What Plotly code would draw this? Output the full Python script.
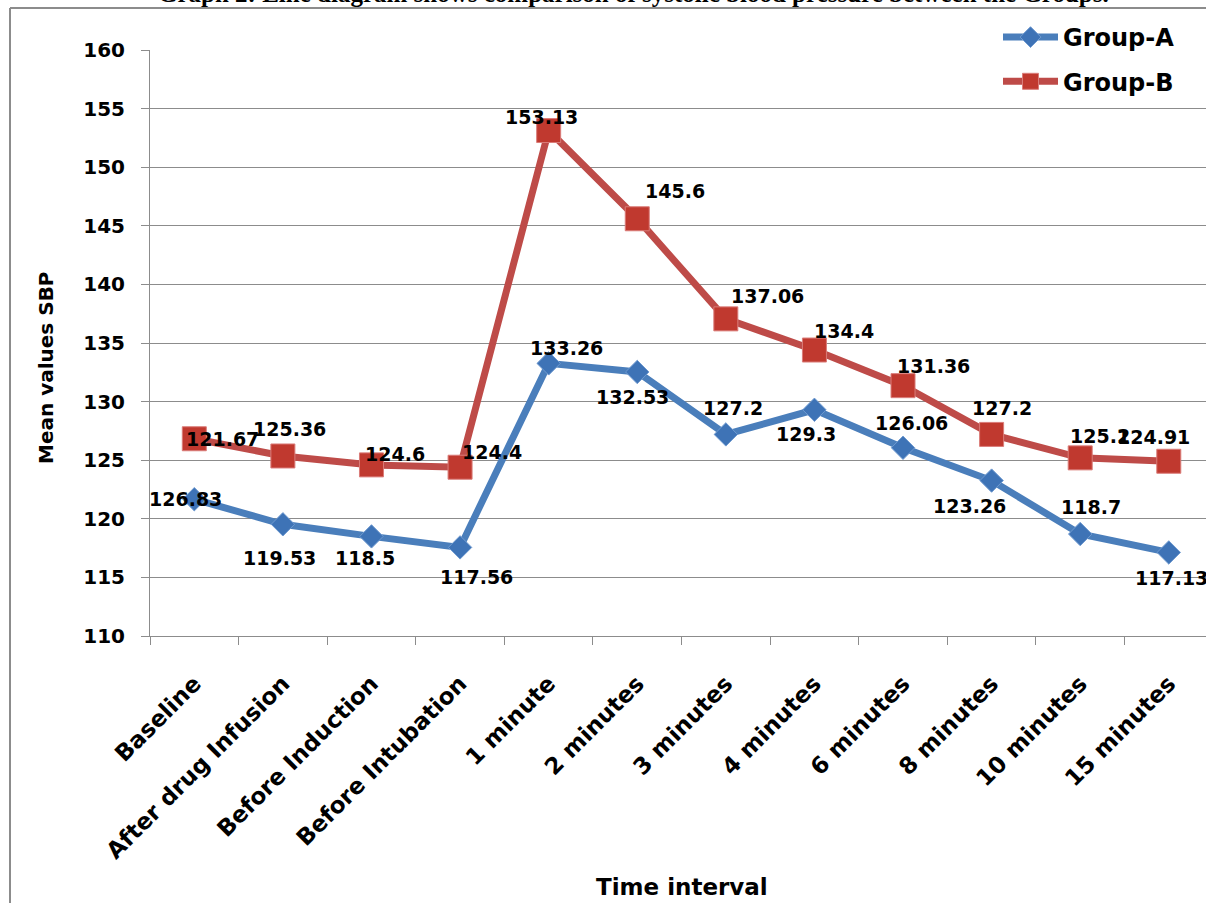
import plotly.graph_objects as go

categories = ["Baseline", "After drug Infusion", "Before Induction", "Before Intubation",
              "1 minute", "2 minutes", "3 minutes", "4 minutes", "6 minutes",
              "8 minutes", "10 minutes", "15 minutes"]
group_a = [121.67, 119.53, 118.5, 117.56, 133.26, 132.53, 127.2, 129.3, 126.06, 123.26, 118.7, 117.13]
group_b = [126.83, 125.36, 124.6, 124.4, 153.13, 145.6, 137.06, 134.4, 131.36, 127.2, 125.2, 124.91]
# data labels as printed in the source (baseline labels are swapped in the original)
labels_a = ["126.83", "119.53", "118.5", "117.56", "133.26", "132.53", "127.2", "129.3", "126.06", "123.26", "118.7", "117.13"]
labels_b = ["121.67", "125.36", "124.6", "124.4", "153.13", "145.6", "137.06", "134.4", "131.36", "127.2", "125.2", "124.91"]

# label offsets (pixels, right/down) relative to each point
off_a = [(-9, 0), (-3, 34), (-6, 22), (16, 30), (18, -15), (-5, 25), (7, -26), (-8, 24), (8, -25), (-22, 25), (11, -27), (3, 26)]
off_b = [(28, 0), (7, -27), (24, -11), (32, -15), (-7, -14), (38, -28), (42, -23), (30, -19), (30, -20), (10, -26), (20, -22), (-15, -24)]

FONT = "DejaVu Sans"
BLUE_LINE = "#4A7EBB"
RED_LINE = "#BE4B48"

fig = go.Figure()
fig.add_trace(go.Scatter(
    x=categories, y=group_a, name="Group-A", mode="lines+markers",
    line=dict(color=BLUE_LINE, width=7),
    marker=dict(symbol="diamond", size=18, color="#3E73B6", line=dict(color="#6F9AD0", width=1)),
    legendgroup="a"))
fig.add_trace(go.Scatter(
    x=categories, y=group_b, name="Group-B", mode="lines+markers",
    line=dict(color=RED_LINE, width=7),
    marker=dict(symbol="square", size=24, color="#C0392F", line=dict(color="#DA7C79", width=1)),
    legendgroup="b"))

annotations = []
for cat, v, t, (dx, dy) in zip(categories, group_a, labels_a, off_a):
    annotations.append(dict(x=cat, y=v, text=t, showarrow=False, xshift=dx, yshift=-dy,
                            font=dict(family=FONT, size=19, color="black", weight="bold")))
for cat, v, t, (dx, dy) in zip(categories, group_b, labels_b, off_b):
    annotations.append(dict(x=cat, y=v, text=t, showarrow=False, xshift=dx, yshift=-dy,
                            font=dict(family=FONT, size=19, color="black", weight="bold")))

# geometry helpers (plot area: x 150..1206, y 50..636)
L, R, T, B = 150, 1206, 50, 636
def px(p):
    return (p - L) / (R - L)
def py(p):
    return 1 - (p - T) / (B - T)

annotations += [
    dict(xref="paper", yref="paper", x=px(633), y=py(-6), text="Graph 2: Line diagram shows comparison of systolic blood pressure between the Groups.",
         showarrow=False, xanchor="center", yanchor="middle",
         font=dict(family="Liberation Serif", size=25, color="black", weight="bold")),
    dict(xref="paper", yref="paper", x=px(46), y=py(368), text="Mean values SBP", textangle=-90,
         showarrow=False, xanchor="center", yanchor="middle",
         font=dict(family=FONT, size=20, color="black", weight="bold")),
    dict(xref="paper", yref="paper", x=px(682), y=py(887), text="Time interval",
         showarrow=False, xanchor="center", yanchor="middle",
         font=dict(family=FONT, size=23, color="black", weight="bold")),
]

shapes = [
    dict(type="line", xref="paper", yref="paper", x0=px(10), x1=px(10), y0=py(8), y1=py(905),
         line=dict(color="#8C8C8C", width=2)),
    dict(type="line", xref="paper", yref="paper", x0=px(10), x1=1.01, y0=py(8), y1=py(8),
         line=dict(color="#8C8C8C", width=2)),
]

fig.update_layout(
    width=1206, height=903,
    margin=dict(l=L, r=0, t=T, b=903 - B),
    paper_bgcolor="white", plot_bgcolor="white",
    showlegend=True,
    legend=dict(x=px(998), y=py(15), xanchor="left", yanchor="top",
                font=dict(family=FONT, size=24, color="black", weight="bold"),
                itemwidth=55, tracegroupgap=10, bgcolor="rgba(0,0,0,0)"),
    annotations=annotations, shapes=shapes,
    font=dict(family=FONT, color="black"),
)
fig.update_xaxes(
    type="category", range=[-0.5, 11.42], tickson="boundaries",
    ticks="outside", ticklen=8, tickcolor="#8C8C8C", tickwidth=1,
    showline=True, linecolor="#8C8C8C", linewidth=1, showgrid=False,
    tickangle=-45, tickfont=dict(family=FONT, size=23, color="black", weight="bold"),
    ticklabelstandoff=24, automargin=False,
)
fig.update_yaxes(
    range=[110, 160], dtick=5, tick0=110,
    ticks="outside", ticklen=8, tickcolor="#8C8C8C", tickwidth=1,
    showline=True, linecolor="#8C8C8C", linewidth=1,
    showgrid=True, gridcolor="#8C8C8C", gridwidth=1, zeroline=False,
    tickfont=dict(family=FONT, size=20, color="black", weight="bold"),
    ticklabelstandoff=12, automargin=False,
)
fig.write_html("out.html", config={"displayModeBar": False},
               post_script="document.body.style.margin='0px';")
